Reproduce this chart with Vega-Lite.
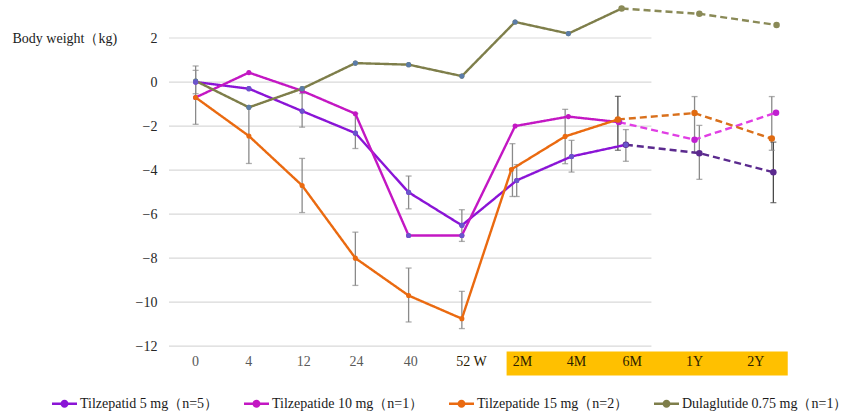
{
  "$schema": "https://vega.github.io/schema/vega-lite/v6.json",
  "width": 623,
  "height": 372,
  "autosize": "none",
  "padding": {"left": 169, "top": 5, "right": 55, "bottom": 37},
  "background": "white",
  "config": {
    "view": {"stroke": null},
    "font": "Liberation Serif"
  },
  "datasets": {
    "main": [
      {"line": "Tilzepatid 5 mg（n=5）", "seg": "solid", "pos": 0, "value": 0.0},
      {"line": "Tilzepatid 5 mg（n=5）", "seg": "solid", "pos": 1, "value": -0.3},
      {"line": "Tilzepatid 5 mg（n=5）", "seg": "solid", "pos": 2, "value": -1.32},
      {"line": "Tilzepatid 5 mg（n=5）", "seg": "solid", "pos": 3, "value": -2.32},
      {"line": "Tilzepatid 5 mg（n=5）", "seg": "solid", "pos": 4, "value": -5.01},
      {"line": "Tilzepatid 5 mg（n=5）", "seg": "solid", "pos": 5, "value": -6.51},
      {"line": "Tilzepatid 5 mg（n=5）", "seg": "solid", "pos": 6.03, "value": -4.47},
      {"line": "Tilzepatid 5 mg（n=5）", "seg": "solid", "pos": 7.06, "value": -3.38},
      {"line": "Tilzepatid 5 mg（n=5）", "seg": "solid", "pos": 8.08, "value": -2.85},
      {"line": "Tilzepatide 10 mg（n=1）", "seg": "solid", "pos": 0, "value": -0.7},
      {"line": "Tilzepatide 10 mg（n=1）", "seg": "solid", "pos": 1, "value": 0.43},
      {"line": "Tilzepatide 10 mg（n=1）", "seg": "solid", "pos": 2, "value": -0.4},
      {"line": "Tilzepatide 10 mg（n=1）", "seg": "solid", "pos": 3, "value": -1.44},
      {"line": "Tilzepatide 10 mg（n=1）", "seg": "solid", "pos": 4, "value": -6.97},
      {"line": "Tilzepatide 10 mg（n=1）", "seg": "solid", "pos": 5, "value": -6.97},
      {"line": "Tilzepatide 10 mg（n=1）", "seg": "solid", "pos": 6, "value": -2.0},
      {"line": "Tilzepatide 10 mg（n=1）", "seg": "solid", "pos": 7, "value": -1.57},
      {"line": "Tilzepatide 10 mg（n=1）", "seg": "solid", "pos": 7.95, "value": -1.82},
      {"line": "Tilzepatide 15 mg（n=2）", "seg": "solid", "pos": 0, "value": -0.7},
      {"line": "Tilzepatide 15 mg（n=2）", "seg": "solid", "pos": 1, "value": -2.45},
      {"line": "Tilzepatide 15 mg（n=2）", "seg": "solid", "pos": 2, "value": -4.7},
      {"line": "Tilzepatide 15 mg（n=2）", "seg": "solid", "pos": 3, "value": -8.0},
      {"line": "Tilzepatide 15 mg（n=2）", "seg": "solid", "pos": 4, "value": -9.7},
      {"line": "Tilzepatide 15 mg（n=2）", "seg": "solid", "pos": 5, "value": -10.75},
      {"line": "Tilzepatide 15 mg（n=2）", "seg": "solid", "pos": 5.93, "value": -3.97},
      {"line": "Tilzepatide 15 mg（n=2）", "seg": "solid", "pos": 6.94, "value": -2.47},
      {"line": "Tilzepatide 15 mg（n=2）", "seg": "solid", "pos": 7.93, "value": -1.7},
      {"line": "Dulaglutide 0.75 mg（n=1）", "seg": "solid", "pos": 0, "value": 0.05},
      {"line": "Dulaglutide 0.75 mg（n=1）", "seg": "solid", "pos": 1, "value": -1.15},
      {"line": "Dulaglutide 0.75 mg（n=1）", "seg": "solid", "pos": 2, "value": -0.3},
      {"line": "Dulaglutide 0.75 mg（n=1）", "seg": "solid", "pos": 3, "value": 0.86},
      {"line": "Dulaglutide 0.75 mg（n=1）", "seg": "solid", "pos": 4, "value": 0.79},
      {"line": "Dulaglutide 0.75 mg（n=1）", "seg": "solid", "pos": 5, "value": 0.27},
      {"line": "Dulaglutide 0.75 mg（n=1）", "seg": "solid", "pos": 6, "value": 2.73},
      {"line": "Dulaglutide 0.75 mg（n=1）", "seg": "solid", "pos": 7, "value": 2.2},
      {"line": "Dulaglutide 0.75 mg（n=1）", "seg": "solid", "pos": 8, "value": 3.34},
      {"line": "Tilzepatid 5 mg follow-up", "seg": "dashed", "pos": 8.08, "value": -2.85},
      {"line": "Tilzepatid 5 mg follow-up", "seg": "dashed", "pos": 9.46, "value": -3.23},
      {"line": "Tilzepatid 5 mg follow-up", "seg": "dashed", "pos": 10.85, "value": -4.1},
      {"line": "Tilzepatide 10 mg follow-up", "seg": "dashed", "pos": 7.95, "value": -1.82},
      {"line": "Tilzepatide 10 mg follow-up", "seg": "dashed", "pos": 9.37, "value": -2.62},
      {"line": "Tilzepatide 10 mg follow-up", "seg": "dashed", "pos": 10.9, "value": -1.39},
      {"line": "Tilzepatide 15 mg follow-up", "seg": "dashed", "pos": 7.93, "value": -1.7},
      {"line": "Tilzepatide 15 mg follow-up", "seg": "dashed", "pos": 9.37, "value": -1.41},
      {"line": "Tilzepatide 15 mg follow-up", "seg": "dashed", "pos": 10.82, "value": -2.57},
      {"line": "Dulaglutide 0.75 mg follow-up", "seg": "dashed", "pos": 8, "value": 3.34},
      {"line": "Dulaglutide 0.75 mg follow-up", "seg": "dashed", "pos": 9.46, "value": 3.1},
      {"line": "Dulaglutide 0.75 mg follow-up", "seg": "dashed", "pos": 10.91, "value": 2.59}
    ],
    "err": [
      {"pos": 0, "lo": -1.92, "hi": 0.73, "tone": "gray"},
      {"pos": 0, "lo": -0.53, "hi": 0.53, "tone": "gray"},
      {"pos": 1, "lo": -3.7, "hi": -1.15, "tone": "gray"},
      {"pos": 2, "lo": -2.05, "hi": -0.52, "tone": "gray"},
      {"pos": 2, "lo": -5.93, "hi": -3.47, "tone": "gray"},
      {"pos": 3, "lo": -3.02, "hi": -1.43, "tone": "gray"},
      {"pos": 3, "lo": -9.24, "hi": -6.82, "tone": "gray"},
      {"pos": 4, "lo": -5.76, "hi": -4.27, "tone": "gray"},
      {"pos": 4, "lo": -10.9, "hi": -8.45, "tone": "gray"},
      {"pos": 5, "lo": -7.24, "hi": -5.8, "tone": "gray"},
      {"pos": 5, "lo": -11.2, "hi": -9.51, "tone": "gray"},
      {"pos": 5.95, "lo": -5.2, "hi": -2.8, "tone": "gray"},
      {"pos": 6.03, "lo": -5.2, "hi": -3.75, "tone": "gray"},
      {"pos": 6.94, "lo": -3.71, "hi": -1.24, "tone": "gray"},
      {"pos": 7.06, "lo": -4.09, "hi": -2.65, "tone": "gray"},
      {"pos": 7.93, "lo": -3.1, "hi": -0.65, "tone": "dark"},
      {"pos": 8.08, "lo": -3.6, "hi": -2.16, "tone": "gray"},
      {"pos": 9.37, "lo": -3.2, "hi": -0.66, "tone": "gray"},
      {"pos": 9.46, "lo": -4.42, "hi": -1.97, "tone": "gray"},
      {"pos": 10.82, "lo": -3.1, "hi": -0.66, "tone": "gray"},
      {"pos": 10.85, "lo": -5.48, "hi": -2.73, "tone": "dark"}
    ],
    "grid": [
      {"g": -12}, {"g": -10}, {"g": -8}, {"g": -6}, {"g": -4}, {"g": -2}, {"g": 0}, {"g": 2}
    ],
    "xlabels": [
      {"label": "0", "pos": 0},
      {"label": "4", "pos": 1},
      {"label": "12", "pos": 2.03},
      {"label": "24", "pos": 3.02},
      {"label": "40", "pos": 4.04},
      {"label": "52 W", "pos": 5.18},
      {"label": "2M", "pos": 6.14},
      {"label": "4M", "pos": 7.15},
      {"label": "6M", "pos": 8.2},
      {"label": "1Y", "pos": 9.37},
      {"label": "2Y", "pos": 10.52}
    ]
  },
  "layer": [
    {
      "data": {"name": "grid"},
      "mark": {"type": "rule", "color": "#d9d9d9", "strokeWidth": 1.2},
      "encoding": {
        "x": {"datum": -0.5, "type": "quantitative", "scale": {"domain": [-0.5, 11.2], "nice": false, "zero": false}, "axis": null},
        "x2": {"datum": 8.56},
        "y": {
          "field": "g", "type": "quantitative",
          "scale": {"domain": [-13.4, 3.5], "nice": false, "zero": false},
          "axis": {
            "values": [-12, -10, -8, -6, -4, -2, 0, 2],
            "domain": false, "ticks": false, "grid": false,
            "labelPadding": 12, "labelFont": "Liberation Serif", "labelFontSize": 14, "labelColor": "#262626",
            "title": "Body weight（kg)", "titleAngle": 0, "titleX": -157, "titleY": 33,
            "titleAlign": "left", "titleBaseline": "middle",
            "titleFont": "Liberation Serif", "titleFontSize": 14, "titleFontWeight": "normal", "titleColor": "#1a1a1a"
          }
        }
      }
    },
    {
      "data": {"values": [{}]},
      "mark": {"type": "rect", "color": "#FFC000", "clip": false},
      "encoding": {
        "x": {"datum": 5.84, "type": "quantitative"},
        "x2": {"datum": 11.12},
        "y": {"datum": -12.24, "type": "quantitative"},
        "y2": {"datum": -13.33}
      }
    },
    {
      "data": {"name": "xlabels"},
      "mark": {"type": "text", "font": "Liberation Serif", "fontSize": 14, "baseline": "middle", "align": "center"},
      "encoding": {
        "x": {"field": "pos", "type": "quantitative"},
        "y": {"datum": -12.72, "type": "quantitative"},
        "text": {"field": "label"},
        "color": {"condition": {"test": "datum.pos > 5", "value": "#2a2000"}, "value": "#595959"}
      }
    },
    {
      "data": {"name": "err"},
      "mark": {"type": "rule", "strokeWidth": 1.3},
      "encoding": {
        "x": {"field": "pos", "type": "quantitative"},
        "y": {"field": "lo", "type": "quantitative"},
        "y2": {"field": "hi"},
        "color": {"field": "tone", "type": "nominal", "scale": {"domain": ["gray", "dark"], "range": ["#8a8a8a", "#4a4a4a"]}, "legend": null}
      }
    },
    {
      "data": {"name": "err"},
      "mark": {"type": "tick", "orient": "horizontal", "size": 6, "thickness": 1.3},
      "encoding": {
        "x": {"field": "pos", "type": "quantitative"},
        "y": {"field": "lo", "type": "quantitative"},
        "color": {"field": "tone", "type": "nominal", "scale": {"domain": ["gray", "dark"], "range": ["#8a8a8a", "#4a4a4a"]}, "legend": null}
      }
    },
    {
      "data": {"name": "err"},
      "mark": {"type": "tick", "orient": "horizontal", "size": 6, "thickness": 1.3},
      "encoding": {
        "x": {"field": "pos", "type": "quantitative"},
        "y": {"field": "hi", "type": "quantitative"},
        "color": {"field": "tone", "type": "nominal", "scale": {"domain": ["gray", "dark"], "range": ["#8a8a8a", "#4a4a4a"]}, "legend": null}
      }
    },
    {
      "data": {"name": "main"},
      "mark": {"type": "line", "strokeWidth": 2.4},
      "encoding": {
        "x": {"field": "pos", "type": "quantitative"},
        "y": {"field": "value", "type": "quantitative"},
        "detail": {"field": "line"},
        "strokeDash": {"field": "seg", "type": "nominal", "scale": {"domain": ["solid", "dashed"], "range": [[1, 0], [7, 4]]}, "legend": null},
        "stroke": {
          "field": "line", "type": "nominal",
          "scale": {
            "domain": ["Tilzepatid 5 mg（n=5）", "Tilzepatide 10 mg（n=1）", "Tilzepatide 15 mg（n=2）", "Dulaglutide 0.75 mg（n=1）", "Tilzepatid 5 mg follow-up", "Tilzepatide 10 mg follow-up", "Tilzepatide 15 mg follow-up", "Dulaglutide 0.75 mg follow-up"],
            "range": ["#8a14d6", "#c317c3", "#ea6a10", "#7e7e4a", "#5b2a8e", "#e03ee4", "#d9701c", "#8a8a57"]
          },
          "legend": {
            "values": ["Tilzepatid 5 mg（n=5）", "Tilzepatide 10 mg（n=1）", "Tilzepatide 15 mg（n=2）", "Dulaglutide 0.75 mg（n=1）"],
            "title": null,
            "orient": "none",
            "direction": "horizontal",
            "legendX": -117,
            "legendY": 386,
            "symbolType": "M-1,-0.1H1V0.1H-1Z M0.32,0A0.32,0.32 0 1,1 -0.32,0A0.32,0.32 0 1,1 0.32,0Z",
            "symbolSize": 625,
            "symbolStrokeWidth": 0,
            "labelFont": "Liberation Serif",
            "labelFontSize": 14,
            "labelColor": "#1a1a1a",
            "labelOffset": 3,
            "labelLimit": 400,
            "columnPadding": 25,
            "encode": {
              "symbols": {
                "update": {
                  "fill": {"scale": "stroke", "field": "value"},
                  "stroke": {"scale": "stroke", "field": "value"},
                  "strokeWidth": {"value": 0}
                }
              }
            }
          }
        }
      }
    },
    {
      "data": {"name": "main"},
      "mark": {"type": "point", "filled": true, "opacity": 1},
      "encoding": {
        "x": {"field": "pos", "type": "quantitative"},
        "y": {"field": "value", "type": "quantitative"},
        "size": {"field": "seg", "type": "nominal", "scale": {"domain": ["solid", "dashed"], "range": [26, 42]}, "legend": null},
        "fill": {"field": "line", "type": "nominal",
          "scale": {
            "domain": ["Tilzepatid 5 mg（n=5）", "Tilzepatide 10 mg（n=1）", "Tilzepatide 15 mg（n=2）", "Dulaglutide 0.75 mg（n=1）", "Tilzepatid 5 mg follow-up", "Tilzepatide 10 mg follow-up", "Tilzepatide 15 mg follow-up", "Dulaglutide 0.75 mg follow-up"],
            "range": ["#8a14d6", "#c317c3", "#ea6a10", "#7e7e4a", "#5b2a8e", "#c020d0", "#e06a10", "#8a8a57"]
          },
          "legend": null}
      }
    },
    {
      "data": {"name": "main"},
      "transform": [{"filter": "datum.line === 'Dulaglutide 0.75 mg（n=1）' && datum.pos < 7.5"}],
      "mark": {"type": "point", "filled": true, "opacity": 1, "size": 26, "color": "#5b7ca8"},
      "encoding": {
        "x": {"field": "pos", "type": "quantitative"},
        "y": {"field": "value", "type": "quantitative"}
      }
    },
    {
      "data": {"name": "main"},
      "transform": [{"filter": "datum.line === 'Tilzepatid 5 mg（n=5）' || (datum.line === 'Tilzepatide 10 mg（n=1）' && datum.pos >= 4 && datum.pos <= 5)"}],
      "mark": {"type": "point", "filled": true, "opacity": 1, "size": 26, "color": "#6a55cc"},
      "encoding": {
        "x": {"field": "pos", "type": "quantitative"},
        "y": {"field": "value", "type": "quantitative"}
      }
    }
  ]
}
